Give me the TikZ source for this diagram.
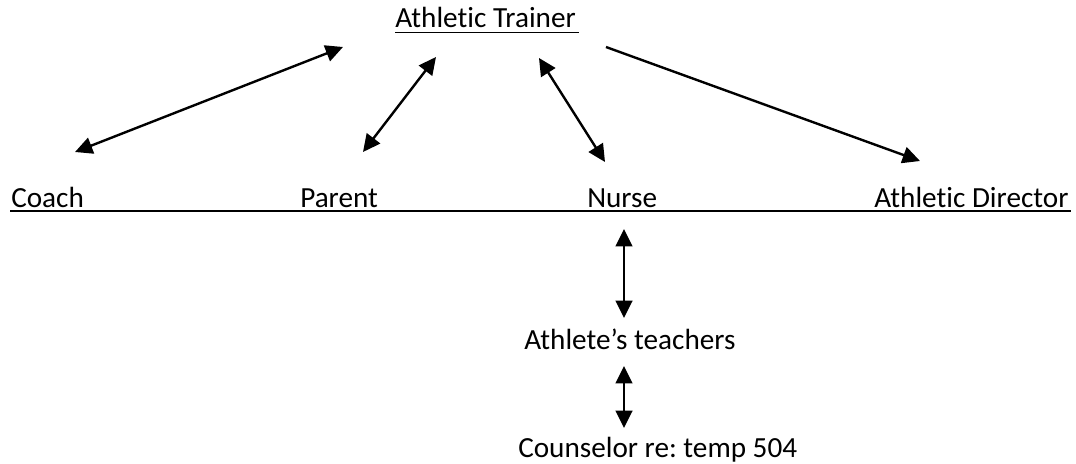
\documentclass[tikz,border=0pt]{standalone}
\usepackage{fontspec}
\setmainfont{Carlito}[Ligatures=NoCommon]
\frenchspacing
\usetikzlibrary{arrows.meta}
\begin{document}
\begin{tikzpicture}[x=0.75pt,y=-0.75pt,
  txt/.style={anchor=base west, inner sep=0pt, font=\fontsize{21.9pt}{26pt}\selectfont},
  tip/.tip={Triangle[length=13pt,width=12.5pt]},
  onehead/.style={line width=1.8pt, -tip},
  twohead/.style={line width=1.8pt, tip-tip},
  uline/.style={line width=1.2pt}]
\useasboundingbox (0,0) rectangle (1076,464);
% texts
\node[txt] (at) at (395,27) {Athletic Trainer};
\node[txt] (coach) at (11,207) {Coach};
\node[txt] (parent) at (300,207) {Parent};
\node[txt] (nurse) at (587,207) {Nurse};
\node[txt] (ad) at (874,207) {Athletic Director};
\node[txt] (teach) at (524,349) {Athlete’s teachers};
\node[txt] (couns) at (518,457) {Counselor re: temp 504};
% underlines
\coordinate (ulTa) at (395,32.5);
\coordinate (ulTb) at (579,32.5);
\draw[uline] (ulTa) -- (ulTb);
\coordinate (ulMa) at (10,211);
\coordinate (ulMb) at (1071,211);
\draw[uline] (ulMa) -- (ulMb);
% arrow end points
\coordinate (c1) at (75,152);   \coordinate (t1) at (343,47);
\coordinate (p1) at (363,152);  \coordinate (t2) at (436,57);
\coordinate (t3) at (539,58);   \coordinate (n1) at (605,162);
\coordinate (t4) at (606,47);   \coordinate (d1) at (920,161);
\coordinate (n2) at (624,229);  \coordinate (a1) at (624,318);
\coordinate (a2) at (624,366);  \coordinate (s1) at (624,428);
% connectors
\draw[twohead] (c1) -- (t1);
\draw[twohead] (p1) -- (t2);
\draw[twohead] (t3) -- (n1);
\draw[onehead] (t4) -- (d1);
\draw[twohead] (n2) -- (a1);
\draw[twohead] (a2) -- (s1);
\end{tikzpicture}
\end{document}
